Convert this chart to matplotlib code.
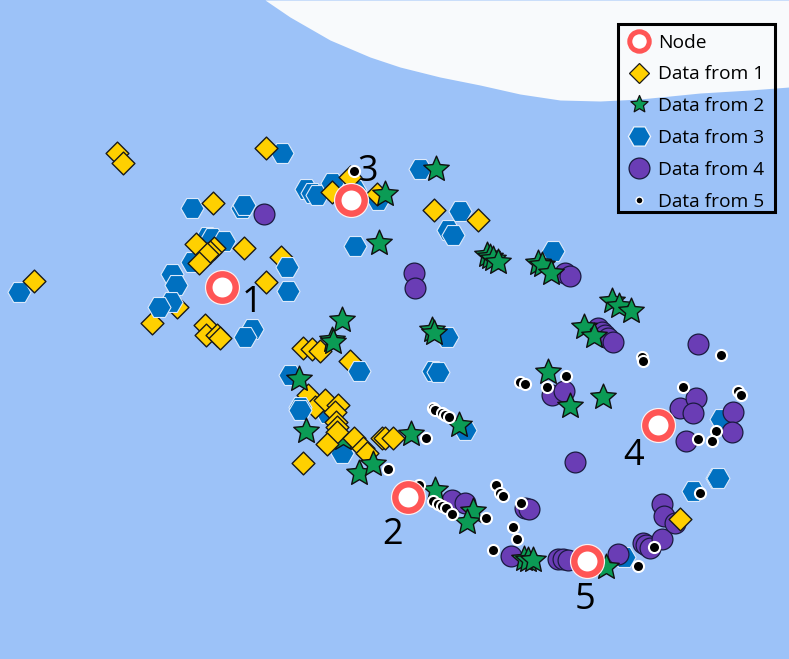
import matplotlib
matplotlib.use("Agg")
import matplotlib.pyplot as plt
from matplotlib.lines import Line2D
from matplotlib.patches import Rectangle
from matplotlib.path import Path

plt.rcParams["font.family"] = ["Open Sans", "DejaVu Sans"]

# colours
BLUE_BG = "#9CC2F8"
SKY = "#F8FAFC"
RED = "#FF5555"
YELLOW = "#FFD000"
GREEN = "#0B9B55"
HEX = "#0070C0"
PURPLE = "#6A3DB5"

# boundary of the pale region, top right
edge_x = [265, 290, 330, 370, 400, 440, 480, 520, 560, 600, 640, 700, 750, 789]
edge_y = [0, 17, 40, 57, 67, 77, 85, 94, 100, 101, 99, 93, 90, 87]

# nodes
node_x = [222, 408, 351, 658, 587]
node_y = [287, 497, 200, 425, 561]
node_names = ["1", "2", "3", "4", "5"]
label_x = [252, 393, 368, 634, 585]
label_y = [303, 535, 172, 456, 600]

# data from 1
d1_x = [117, 123, 266, 213, 34, 196, 214, 210, 207, 199, 244, 281, 266, 177, 152,
        205, 206, 217, 220, 332, 377, 350, 434, 478, 303, 312, 320, 350, 308, 315,
        325, 338, 335, 336, 337, 337, 327, 354, 363, 367, 303, 382, 385, 393]
d1_y = [153, 163, 148, 203, 281, 244, 248, 252, 254, 263, 248, 257, 282, 307, 323,
        325, 335, 335, 338, 192, 194, 177, 210, 220, 348, 349, 351, 361, 395, 407,
        400, 405, 412, 422, 427, 432, 444, 438, 448, 453, 463, 438, 438, 438]
d1_top_x = [680]
d1_top_y = [519]

# data from 2, one star is hidden under the diamonds
d2_x = [385, 436, 379, 487, 490, 493, 498, 538, 542, 551, 342, 332, 333, 432, 434,
        612, 619, 631, 584, 594, 548, 570, 603, 299, 306, 411, 459, 359, 373,
        435, 473, 467, 524, 528, 533, 606]
d2_y = [194, 169, 243, 255, 257, 259, 262, 263, 265, 273, 320, 340, 342, 330, 333,
        301, 306, 311, 327, 336, 372, 406, 397, 379, 431, 434, 425, 473, 464,
        490, 511, 522, 559, 560, 560, 567]
d2_low_x = [343]
d2_low_y = [438]

# data from 3, the second pair of lists sits above the diamonds
d3_x = [192, 242, 244, 306, 312, 317, 207, 212, 224, 192, 172, 176, 19, 252, 245,
        420, 355, 460, 448, 453, 553, 447, 355, 378, 332, 290, 433, 438, 327, 342,
        465, 721, 717, 693, 718, 624, 282]
d3_y = [208, 208, 205, 189, 193, 195, 237, 238, 241, 262, 274, 285, 292, 329, 337,
        169, 246, 211, 230, 235, 251, 337, 190, 200, 183, 375, 371, 372, 413, 453,
        430, 419, 478, 491, 478, 557, 153]
d3_top_x = [171, 159, 287, 288, 359, 300, 300]
d3_top_y = [302, 307, 267, 291, 371, 407, 410]

# data from 4
d4_x = [264, 414, 415, 565, 570, 598, 602, 605, 608, 613, 698, 552, 564, 680, 696,
        693, 733, 732, 686, 575, 452, 465, 525, 529, 511, 558, 563, 568, 618, 643,
        646, 650, 662, 662, 664, 675]
d4_y = [214, 273, 288, 273, 276, 328, 332, 335, 338, 342, 344, 395, 391, 408, 398,
        413, 412, 432, 441, 462, 500, 503, 508, 509, 556, 559, 559, 560, 554, 543,
        545, 548, 539, 504, 516, 523]

# data from 5
d5_x = [354, 426, 388, 433, 435, 442, 445, 449, 520, 525, 419, 433, 438, 442, 446,
        452, 486, 496, 500, 503, 521, 513, 517, 493, 638, 654, 700, 642, 643, 721,
        547, 566, 683, 738, 741, 716, 698, 712]
d5_y = [171, 438, 469, 408, 410, 413, 415, 417, 382, 384, 485, 501, 504, 506, 508,
        514, 518, 485, 493, 496, 503, 527, 539, 550, 566, 547, 493, 357, 361, 355,
        387, 376, 387, 391, 395, 431, 439, 441]

fig = plt.figure(figsize=(7.89, 6.59), dpi=100)
ax = fig.add_axes([0, 0, 1, 1])
ax.set_xlim(0, 789)
ax.set_ylim(659, 0)
ax.axis("off")
ax.set_facecolor(BLUE_BG)
fig.patch.set_facecolor(BLUE_BG)

ax.fill_between(edge_x, 0, edge_y, color=SKY, lw=0, zorder=0)

# fatter star than the built-in one
fat_star = Path.unit_regular_star(5, innerCircle=0.46)

# digits go below the marks
for x, y, name in zip(label_x, label_y, node_names):
    ax.text(x, y, name, fontsize=26, ha="center", va="center", color="black", zorder=1)

ax.scatter(d3_x, d3_y, marker="H", s=275, c=HEX, edgecolors="#DCE9FB", linewidths=0.8, zorder=2)
ax.scatter(d2_low_x, d2_low_y, marker=fat_star, s=370, c=GREEN, edgecolors="#101010", linewidths=1, zorder=2.5)
ax.scatter(d1_x, d1_y, marker="D", s=135, c=YELLOW, edgecolors="#1A1A1A", linewidths=1, zorder=3)
ax.scatter(d3_top_x, d3_top_y, marker="H", s=275, c=HEX, edgecolors="#DCE9FB", linewidths=0.8, zorder=4)
ax.scatter(d4_x, d4_y, marker="o", s=225, c=PURPLE, edgecolors="#1A1A40", linewidths=0.9, zorder=4.5)
ax.scatter(d1_top_x, d1_top_y, marker="D", s=135, c=YELLOW, edgecolors="#1A1A1A", linewidths=1, zorder=4.6)
ax.scatter(d2_x, d2_y, marker=fat_star, s=370, c=GREEN, edgecolors="#101010", linewidths=1, zorder=5)
ax.scatter(d5_x, d5_y, marker="o", s=64, c="black", edgecolors="white", linewidths=1.5, zorder=6)

# node: pale halo and red ring
ax.scatter(node_x, node_y, marker="o", s=640, c="#FDF2F2", linewidths=0, zorder=7)
ax.scatter(node_x, node_y, marker="o", s=360, c="white", edgecolors=RED, linewidths=4.6, zorder=8)

handles = [
    Line2D([], [], ls="none", marker="o", ms=14, mfc="white", mec=RED, mew=3.6),
    Line2D([], [], ls="none", marker="D", ms=10, mfc=YELLOW, mec="#1A1A1A", mew=0.9),
    Line2D([], [], ls="none", marker=fat_star, ms=13, mfc=GREEN, mec="#101010", mew=0.9),
    Line2D([], [], ls="none", marker="H", ms=16, mfc=HEX, mec="#EEF4FD", mew=0.9),
    Line2D([], [], ls="none", marker="o", ms=15, mfc=PURPLE, mec="#1A1A40", mew=0.9),
    Line2D([], [], ls="none", marker="o", ms=5, mfc="black", mec="white", mew=1),
]
labels = ["Node", "Data from 1", "Data from 2", "Data from 3", "Data from 4", "Data from 5"]
leg = ax.legend(handles, labels, loc="upper left", bbox_to_anchor=(615 / 789, 1 - 24 / 659),
                borderaxespad=0, fontsize=13.8, labelspacing=0.72, handletextpad=0.26,
                handlelength=1.5, borderpad=0.5, frameon=False)
leg.set_zorder(20)

# legend box is a bit tighter at the bottom than the legend's own frame
ax.add_patch(Rectangle((618, 24), 157, 188, fill=False, ec="black", lw=2.2, zorder=21))

fig.savefig("out.png", dpi=100, facecolor=BLUE_BG)
